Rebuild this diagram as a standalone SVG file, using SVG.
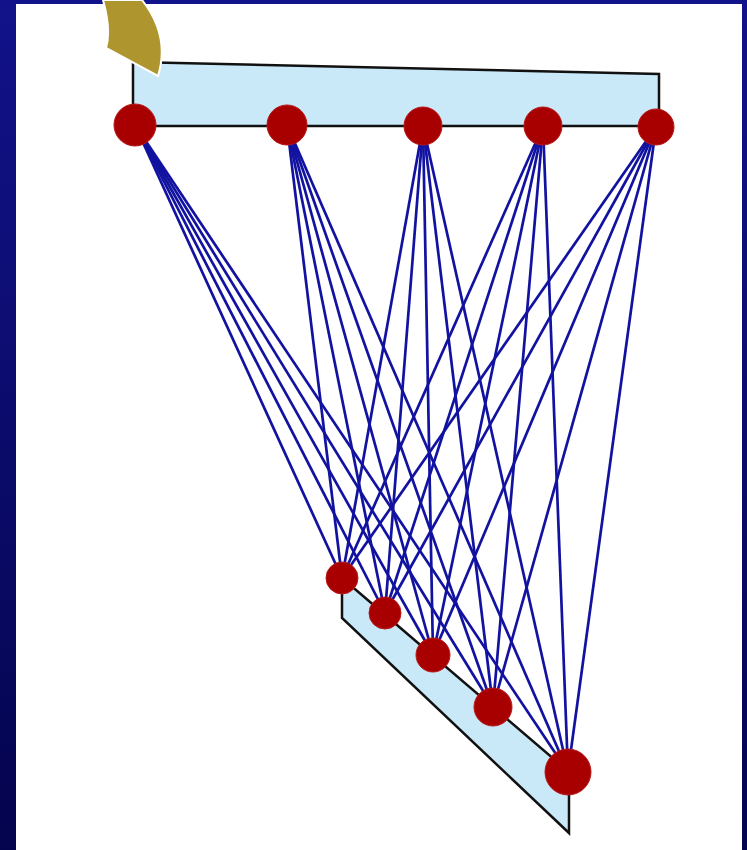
<svg xmlns="http://www.w3.org/2000/svg" width="747" height="850" viewBox="0 0 747 850">
<defs>
<linearGradient id="bg" x1="0" y1="0" x2="0" y2="1">
<stop offset="0" stop-color="#12128a"/>
<stop offset="1" stop-color="#04044e"/>
</linearGradient>
</defs>
<style>
.panel{fill:#c9e8f8;stroke:#111;stroke-width:2.5;stroke-linejoin:miter}
.node{fill:#a80000;stroke:#b81818;stroke-width:1}
#connectors line{stroke:#1212a0;stroke-width:2.7}
</style>
<rect x="0" y="0" width="747" height="850" fill="url(#bg)"/>
<rect x="16" y="4" width="726" height="846" fill="#ffffff"/>
<g id="top-panel"><polygon class="panel" points="133,62 659,74 659,126 133,126"/></g>
<g id="bottom-panel"><polygon class="panel" points="342,578 569,772 569,833 342,618"/></g>
<g id="horn"><path d="M103,0 C108,18 110,35 106,48 L158,76 C166,50 161,24 142,0 Z" fill="#ae952e" stroke="#ffffff" stroke-width="2"/></g>
<g id="connectors">
<line x1="135" y1="125" x2="342" y2="578"/><line x1="135" y1="125" x2="385" y2="613"/><line x1="135" y1="125" x2="433" y2="655"/><line x1="135" y1="125" x2="493" y2="707"/><line x1="135" y1="125" x2="568" y2="772"/>
<line x1="287" y1="125" x2="342" y2="578"/><line x1="287" y1="125" x2="385" y2="613"/><line x1="287" y1="125" x2="433" y2="655"/><line x1="287" y1="125" x2="493" y2="707"/><line x1="287" y1="125" x2="568" y2="772"/>
<line x1="423" y1="126" x2="342" y2="578"/><line x1="423" y1="126" x2="385" y2="613"/><line x1="423" y1="126" x2="433" y2="655"/><line x1="423" y1="126" x2="493" y2="707"/><line x1="423" y1="126" x2="568" y2="772"/>
<line x1="543" y1="126" x2="342" y2="578"/><line x1="543" y1="126" x2="385" y2="613"/><line x1="543" y1="126" x2="433" y2="655"/><line x1="543" y1="126" x2="493" y2="707"/><line x1="543" y1="126" x2="568" y2="772"/>
<line x1="656" y1="127" x2="342" y2="578"/><line x1="656" y1="127" x2="385" y2="613"/><line x1="656" y1="127" x2="433" y2="655"/><line x1="656" y1="127" x2="493" y2="707"/><line x1="656" y1="127" x2="568" y2="772"/>
</g>
<g id="t1"><circle class="node" cx="135" cy="125" r="21"/></g>
<g id="t2"><circle class="node" cx="287" cy="125" r="20"/></g>
<g id="t3"><circle class="node" cx="423" cy="126" r="19"/></g>
<g id="t4"><circle class="node" cx="543" cy="126" r="19"/></g>
<g id="t5"><circle class="node" cx="656" cy="127" r="18"/></g>
<g id="b1"><circle class="node" cx="342" cy="578" r="16"/></g>
<g id="b2"><circle class="node" cx="385" cy="613" r="16"/></g>
<g id="b3"><circle class="node" cx="433" cy="655" r="17"/></g>
<g id="b4"><circle class="node" cx="493" cy="707" r="19"/></g>
<g id="b5"><circle class="node" cx="568" cy="772" r="23"/></g>
</svg>
